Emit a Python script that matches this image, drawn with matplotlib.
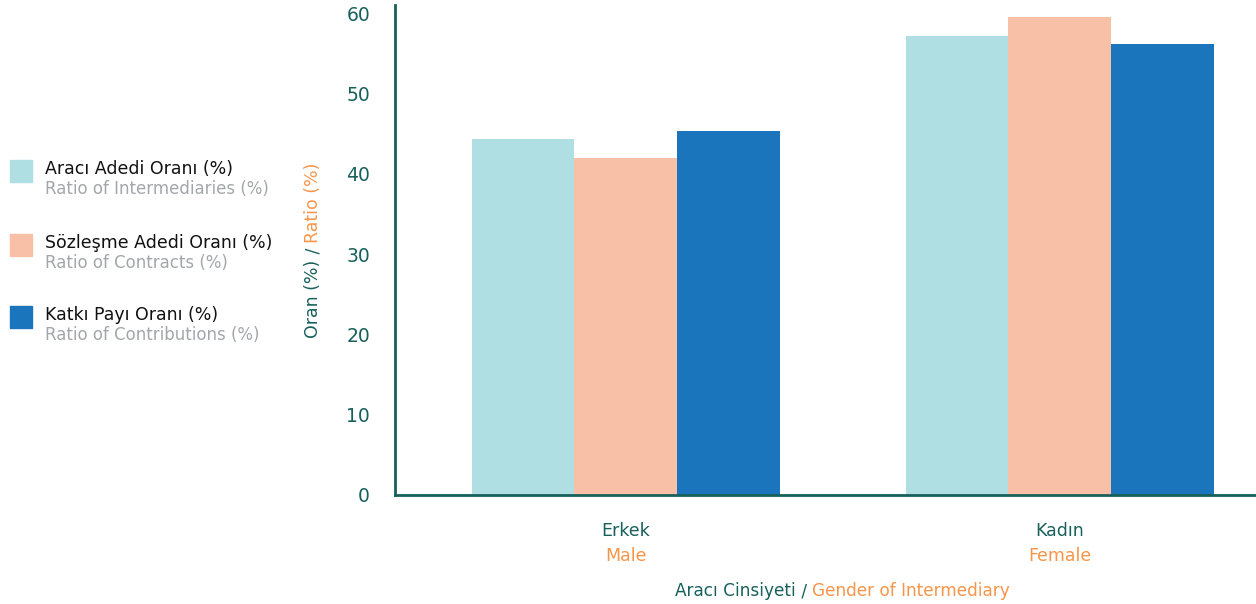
import matplotlib
matplotlib.use('Agg')
import matplotlib.pyplot as plt
import numpy as np

plt.rcParams['font.family'] = ['DejaVu Sans']

# data
categories_tr = ['Erkek', 'Kadın']
categories_en = ['Male', 'Female']
series_tr = ['Aracı Adedi Oranı (%)', 'Sözleşme Adedi Oranı (%)', 'Katkı Payı Oranı (%)']
series_en = ['Ratio of Intermediaries (%)', 'Ratio of Contracts (%)', 'Ratio of Contributions (%)']
intermediaries = [44.3, 57.1]
contracts = [41.9, 59.5]
contributions = [45.3, 56.1]
yticks = [0, 10, 20, 30, 40, 50, 60]

c_teal = '#17605b'
c_orange = '#f7954a'
c_grey = '#a3a7ab'
colors = ['#b0dfe3', '#f9c0a8', '#1b75bc']

fig = plt.figure(figsize=(12.56, 6.04), dpi=100)
ax = fig.add_axes([395/1256, 109/604, 861/1256, 490/604])

x = np.arange(len(categories_tr))
w = 0.237
values = [intermediaries, contracts, contributions]
for i, vals in enumerate(values):
    ax.bar(x + (i - 1) * w, vals, width=w, color=colors[i], edgecolor='none')

ax.set_xlim(-0.532, 1.452)
ax.set_ylim(0, 61)
ax.set_yticks(yticks)
ax.set_xticks([])
ax.tick_params(axis='y', length=0, pad=18, labelsize=13.5, labelcolor=c_teal)
for s in ['top', 'right']:
    ax.spines[s].set_visible(False)
for s in ['left', 'bottom']:
    ax.spines[s].set_color(c_teal)
    ax.spines[s].set_linewidth(2)

# category labels
tr = ax.get_xaxis_transform()
for xi, t_tr, t_en in zip(x, categories_tr, categories_en):
    ax.text(xi, -0.073, t_tr, transform=tr, ha='center', va='center',
            fontsize=12.5, color=c_teal)
    ax.text(xi, -0.125, t_en, transform=tr, ha='center', va='center',
            fontsize=12.5, color=c_orange)

# x axis title in three colours
mid = fig.text(804/1256, 1 - 591/604, ' / ', ha='center', va='center',
               fontsize=12.2, color=c_teal)
ax.annotate('Aracı Cinsiyeti', xy=(0, 0.5), xycoords=mid, ha='right', va='center',
            fontsize=12.2, color=c_teal, annotation_clip=False)
ax.annotate('Gender of Intermediary', xy=(1, 0.5), xycoords=mid, ha='left', va='center',
            fontsize=12.2, color=c_orange, annotation_clip=False)

# y axis title
ymid = fig.text(313/1256, 1 - 251/604, ' / ', rotation=90, ha='center', va='center',
                fontsize=12.5, color=c_teal)
ax.annotate('Oran (%)', xy=(0.5, 0), xycoords=ymid, rotation=90, ha='center', va='top',
            fontsize=12.5, color=c_teal, annotation_clip=False)
ax.annotate('Ratio (%)', xy=(0.5, 1), xycoords=ymid, rotation=90, ha='center', va='bottom',
            fontsize=12.5, color=c_orange, annotation_clip=False)

# legend
leg_y = [171, 245, 317]
for yy, col, t_tr, t_en in zip(leg_y, colors, series_tr, series_en):
    fig.patches.append(plt.Rectangle((10/1256, 1 - (yy + 11)/604), 22/1256, 22/604,
                                     color=col, transform=fig.transFigure, figure=fig))
    fig.text(45/1256, 1 - (yy - 2)/604, t_tr, ha='left', va='center', fontsize=12.5, color='#111111')
    fig.text(45/1256, 1 - (yy + 18)/604, t_en, ha='left', va='center', fontsize=12, color=c_grey)

fig.savefig('out.png', dpi=100, facecolor='white')
